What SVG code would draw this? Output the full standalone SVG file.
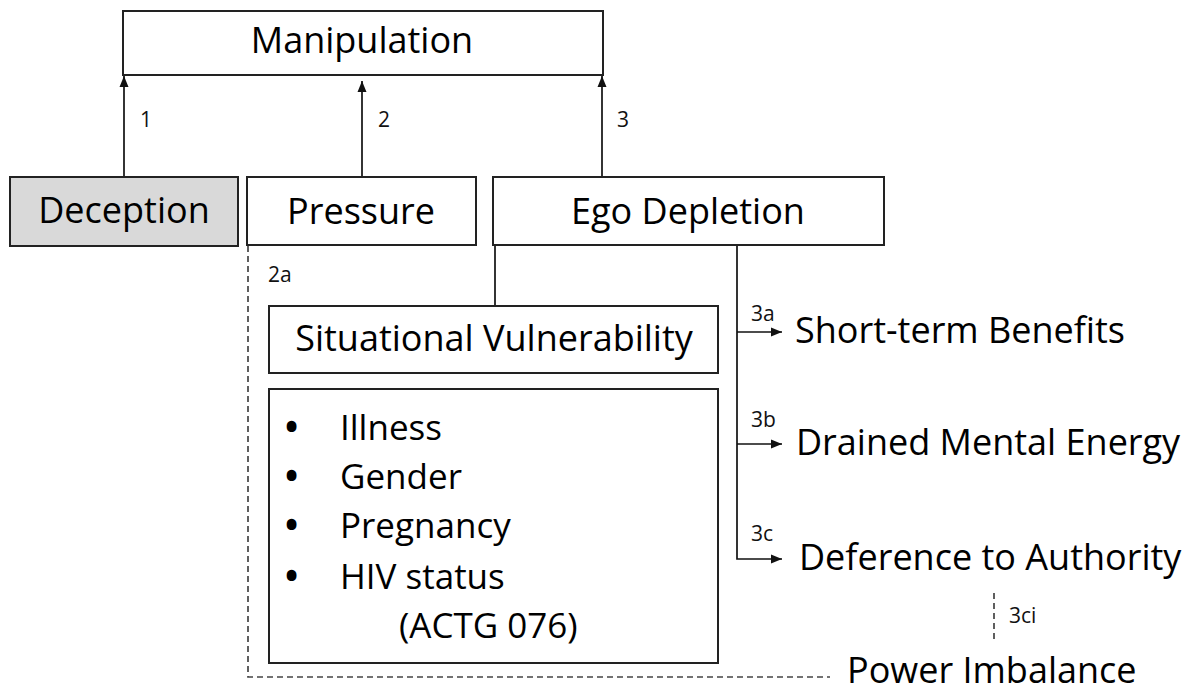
<svg xmlns="http://www.w3.org/2000/svg" width="1192" height="692" viewBox="0 0 1192 692">
<style>
.box{fill:#fff;stroke:#222;stroke-width:2}
.gray{fill:#d9d9d9}
.t{font-family:"Open Sans","Noto Sans",sans-serif;font-size:36px;fill:#000}
.lt{font-size:35px}
.bu{font-weight:700}
.s{font-family:"Open Sans","Noto Sans",sans-serif;font-size:21px;fill:#111}
.ln{stroke:#111;stroke-width:1.7;fill:none}
.dash{stroke:#444;stroke-width:1.7;fill:none;stroke-dasharray:6 4}
</style>
<defs>
<marker id="ah" viewBox="0 0 11 10" refX="11" refY="5" markerWidth="11" markerHeight="10" markerUnits="userSpaceOnUse" orient="auto">
<path d="M0,0.5 L11,5 L0,9.5 Z" fill="#111"/>
</marker>
</defs>
<rect width="1192" height="692" fill="#fff"/>
<g id="connectors">
<line class="ln" x1="124" y1="177" x2="124" y2="76" marker-end="url(#ah)"/>
<line class="ln" x1="362" y1="177" x2="362" y2="81" marker-end="url(#ah)"/>
<line class="ln" x1="602" y1="177" x2="602" y2="76" marker-end="url(#ah)"/>
<line class="ln" x1="495" y1="245" x2="495" y2="306"/>
<polyline class="ln" points="737,245 737,559 782,559" marker-end="url(#ah)"/>
<line class="ln" x1="737" y1="332" x2="782" y2="332" marker-end="url(#ah)"/>
<line class="ln" x1="737" y1="444" x2="782" y2="444" marker-end="url(#ah)"/>
<polyline class="dash" points="248,246 248,677 830,677"/>
<line class="dash" x1="994" y1="593" x2="994" y2="639" stroke-dasharray="5 4"/>
<text class="s" x="140" y="127">1</text>
<text class="s" x="378" y="127">2</text>
<text class="s" x="617" y="127">3</text>
<text class="s" x="268" y="282">2a</text>
<text class="s" x="751" y="321">3a</text>
<text class="s" x="751" y="427">3b</text>
<text class="s" x="751" y="541">3c</text>
<text class="s" x="1009" y="623">3ci</text>
</g>
<g id="manipulation">
<rect class="box" x="123" y="11" width="480" height="64"/>
<text class="t" x="362" y="53" text-anchor="middle">Manipulation</text>
</g>
<g id="deception">
<rect class="box gray" x="10" y="177" width="228" height="69"/>
<text class="t" x="124" y="223" text-anchor="middle">Deception</text>
</g>
<g id="pressure">
<rect class="box" x="247" y="177" width="229" height="68"/>
<text class="t" x="361" y="224" text-anchor="middle">Pressure</text>
</g>
<g id="ego-depletion">
<rect class="box" x="493" y="177" width="391" height="68"/>
<text class="t" x="688" y="224" text-anchor="middle">Ego Depletion</text>
</g>
<g id="situational-vulnerability">
<rect class="box" x="269" y="306" width="449" height="67"/>
<text class="t" x="494" y="351" text-anchor="middle">Situational Vulnerability</text>
</g>
<g id="vulnerability-list">
<rect class="box" x="269" y="389" width="449" height="274"/>
<g class="t lt">
<text y="440"><tspan class="bu" x="285">•</tspan><tspan x="340">Illness</tspan></text>
<text y="489"><tspan class="bu" x="285">•</tspan><tspan x="340">Gender</tspan></text>
<text y="538"><tspan class="bu" x="285">•</tspan><tspan x="340">Pregnancy</tspan></text>
<text y="589"><tspan class="bu" x="285">•</tspan><tspan x="340">HIV status</tspan></text>
<text x="399" y="638">(ACTG 076)</text>
</g>
</g>
<g id="short-term-benefits">
<text class="t" x="795" y="343">Short-term Benefits</text>
</g>
<g id="drained-mental-energy">
<text class="t" x="796" y="455">Drained Mental Energy</text>
</g>
<g id="deference-to-authority">
<text class="t" x="799" y="570">Deference to Authority</text>
</g>
<g id="power-imbalance">
<text class="t" x="847" y="683">Power Imbalance</text>
</g>
</svg>
